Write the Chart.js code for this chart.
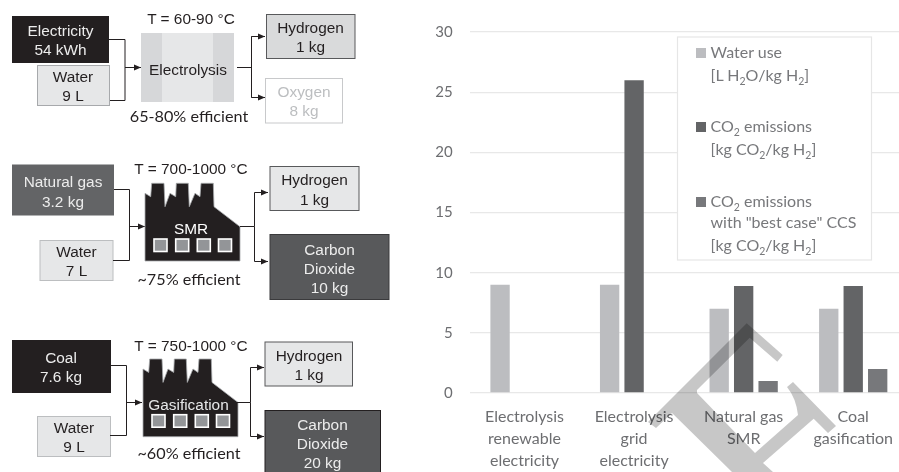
<!DOCTYPE html>
<html>
<head>
<meta charset="utf-8">
<script src="https://cdn.jsdelivr.net/npm/chart.js@4/dist/chart.umd.min.js"></script>
<style>
html, body { margin: 0; padding: 0; width: 899px; height: 472px; overflow: hidden; background: #fff; }
#chartBox { position: absolute; left: 0; top: 0; width: 930px; height: 472px; }
#overlay { position: absolute; left: 0; top: 0; pointer-events: none; }
#overlay text { font-family: "Liberation Sans", Arial, sans-serif; font-size: 15.4px; text-anchor: middle; fill: #231f20; }
#overlay text.cal { font-family: Lato, sans-serif; font-size: 16.2px; }
#overlay text.light { fill: #ececec; }
#overlay text.leg { font-family: Lato, sans-serif; text-anchor: start; fill: #77787b; font-size: 16px; }
#overlay .sub { font-size: 10.5px; }
.line { fill: none; stroke: #231f20; stroke-width: 1; }
</style>
</head>
<body>
<div id="chartBox"><canvas id="barChart" width="930" height="472"></canvas></div>

<svg id="overlay" width="899" height="472" viewBox="0 0 899 472">
  <defs>
    <marker id="arrow" markerUnits="userSpaceOnUse" markerWidth="8" markerHeight="8" refX="7" refY="4" orient="auto">
      <path d="M0,1 L7,4 L0,7 Z" fill="#231f20"/>
    </marker>
    <g id="factory">
      <path d="M145,193.3 L150.7,196.7 L151.7,183.3 L164,183.3 L165,206.7 L170,193.3 L175.7,196.7 L176.3,183.3 L188.3,183.3 L189.3,206.7 L195,193.3 L200,196.7 L201,183.3 L213.3,183.3 L214,206.7 L240,226.7 L240,261 L145,261 Z" fill="#231f20" stroke="#a7a9ac" stroke-width="0.8"/>
      <g fill="#939598" stroke="#fff" stroke-width="1.6">
        <rect x="154" y="239" width="13" height="12.5"/>
        <rect x="175.7" y="239" width="13" height="12.5"/>
        <rect x="197.3" y="239" width="13" height="12.5"/>
        <rect x="218.5" y="239" width="13" height="12.5"/>
      </g>
    </g>
  </defs>

  <!-- electrolysis -->
  <rect x="12" y="16" width="97" height="47" fill="#231f20"/>
  <text class="light" x="60.5" y="36">Electricity</text>
  <text class="light" x="60.5" y="55">54 kWh</text>
  <rect x="37.5" y="65.5" width="72" height="40" fill="#e6e7e8" stroke="#a7a9ac"/>
  <text x="73" y="82">Water</text>
  <text x="73" y="101">9 L</text>
  <path class="line" d="M109,39.5 H125 V100.5 H110"/>
  <path class="line" d="M125,67.5 H141" marker-end="url(#arrow)"/>
  <rect x="141" y="33" width="93" height="69" fill="#e6e7e8"/>
  <rect x="141" y="33" width="21" height="69" fill="#d6d7d9"/>
  <rect x="213" y="33" width="21" height="69" fill="#d6d7d9"/>
  <text x="188" y="75">Electrolysis</text>
  <text x="191" y="24">T = 60-90 °C</text>
  <text class="cal" x="189" y="122">65-80% efficient</text>
  <path class="line" d="M237,67.5 H251.5 M265,36.5 H251.5 V97.5 H265"/>
  <path class="line" d="M251.5,36.5 H265" marker-end="url(#arrow)"/>
  <path class="line" d="M251.5,97.5 H265" marker-end="url(#arrow)"/>
  <rect x="266.5" y="14.5" width="88.5" height="44" fill="#d9dadb" stroke="#58595b"/>
  <text x="310.5" y="33">Hydrogen</text>
  <text x="310.5" y="52">1 kg</text>
  <rect x="265.5" y="78.5" width="77" height="44.5" fill="#fff" stroke="#c8c9cb"/>
  <text x="304" y="97" style="fill:#bcbec0">Oxygen</text>
  <text x="304" y="116" style="fill:#bcbec0">8 kg</text>

  <!-- SMR -->
  <rect x="12" y="164.5" width="102" height="51" fill="#636466"/>
  <text class="light" x="63" y="187">Natural gas</text>
  <text class="light" x="63" y="207">3.2 kg</text>
  <rect x="40" y="240.5" width="73" height="40" fill="#e6e7e8" stroke="#bcbec0"/>
  <text x="76.5" y="257">Water</text>
  <text x="76.5" y="276">7 L</text>
  <path class="line" d="M114,189.5 H129.5 V260.5 H113"/>
  <path class="line" d="M129.5,226.5 H145" marker-end="url(#arrow)"/>
  <use href="#factory"/>
  <text x="191" y="234" style="fill:#fff">SMR</text>
  <text x="191" y="174">T = 700-1000 °C</text>
  <text class="cal" x="189" y="285">~75% efficient</text>
  <path class="line" d="M240,226.5 H254.5 V192.5 M254.5,226.5 V261.5"/>
  <path class="line" d="M254.5,192.5 H268" marker-end="url(#arrow)"/>
  <path class="line" d="M254.5,261.5 H268" marker-end="url(#arrow)"/>
  <rect x="270" y="166.5" width="89" height="44" fill="#e6e7e8" stroke="#58595b"/>
  <text x="314.5" y="185">Hydrogen</text>
  <text x="314.5" y="205">1 kg</text>
  <rect x="270" y="234.5" width="119" height="65" fill="#58595b" stroke="#3a3a3c"/>
  <text class="light" x="329.5" y="255">Carbon</text>
  <text class="light" x="329.5" y="274">Dioxide</text>
  <text class="light" x="329.5" y="293">10 kg</text>

  <!-- gasification -->
  <rect x="12" y="340" width="99" height="53" fill="#231f20"/>
  <text class="light" x="61" y="363">Coal</text>
  <text class="light" x="61" y="382">7.6 kg</text>
  <rect x="37.5" y="416.5" width="73" height="40" fill="#e6e7e8" stroke="#bcbec0"/>
  <text x="74" y="433">Water</text>
  <text x="74" y="452">9 L</text>
  <path class="line" d="M111,365.5 H126.5 V435.5 H110"/>
  <path class="line" d="M126.5,402.5 H142" marker-end="url(#arrow)"/>
  <use href="#factory" x="-2" y="175.7"/>
  <text x="188.5" y="410" style="fill:#e6e7e8">Gasification</text>
  <text x="191" y="351">T = 750-1000 °C</text>
  <text class="cal" x="189" y="459">~60% efficient</text>
  <path class="line" d="M237,402.5 H250.5 V367.5 M250.5,402.5 V436.5"/>
  <path class="line" d="M250.5,367.5 H264" marker-end="url(#arrow)"/>
  <path class="line" d="M250.5,436.5 H264" marker-end="url(#arrow)"/>
  <rect x="265" y="342" width="87.5" height="44" fill="#e6e7e8" stroke="#58595b"/>
  <text x="309" y="361">Hydrogen</text>
  <text x="309" y="380">1 kg</text>
  <rect x="265" y="410.5" width="115.5" height="70" fill="#58595b" stroke="#231f20"/>
  <text class="light" x="322.5" y="430">Carbon</text>
  <text class="light" x="322.5" y="449">Dioxide</text>
  <text class="light" x="322.5" y="468">20 kg</text>

  <!-- legend -->
  <rect x="677.5" y="37" width="194" height="223" fill="#fff" stroke="#e6e6e6" stroke-width="1.2"/>
  <rect x="696" y="48" width="10" height="10" fill="#bcbdc0"/>
  <text class="leg" x="710.5" y="58">Water use</text>
  <text class="leg" x="710.5" y="81">[L H<tspan class="sub" dy="4">2</tspan><tspan dy="-4">O/kg H</tspan><tspan class="sub" dy="4">2</tspan><tspan dy="-4">]</tspan></text>
  <rect x="696" y="122" width="10" height="10" fill="#636466"/>
  <text class="leg" x="710.5" y="132">CO<tspan class="sub" dy="4">2</tspan><tspan dy="-4"> emissions</tspan></text>
  <text class="leg" x="710.5" y="155">[kg CO<tspan class="sub" dy="4">2</tspan><tspan dy="-4">/kg H</tspan><tspan class="sub" dy="4">2</tspan><tspan dy="-4">]</tspan></text>
  <rect x="696" y="197" width="10" height="10" fill="#77787b"/>
  <text class="leg" x="710.5" y="207">CO<tspan class="sub" dy="4">2</tspan><tspan dy="-4"> emissions</tspan></text>
  <text class="leg" x="710.5" y="228">with "best case" CCS</text>
  <text class="leg" x="710.5" y="251">[kg CO<tspan class="sub" dy="4">2</tspan><tspan dy="-4">/kg H</tspan><tspan class="sub" dy="4">2</tspan><tspan dy="-4">]</tspan></text>

  <!-- watermark -->
  <path fill="rgba(0,0,0,0.22)" d="M746.7,323.3 L782.7,355 L777.3,361.7 L749.7,337.7 L697,390 L697,393 L755,453 L798,415 Q796,398 787,387 L793,382 L836,426 L828,433 L813.7,418.7 L763,463 L773,472 L732,472 L672,413 L656,428 L648,422 Z"/>
</svg>

<script>
// ค่าที่อ่านจากกราฟ
const categories = [
    ['Electrolysis', 'renewable', 'electricity'],
    ['Electrolysis', 'grid', 'electricity'],
    ['Natural gas', 'SMR'],
    ['Coal', 'gasification']
];
const waterUse = [9, 9, 7, 7];
const co2Emissions = [null, 26, 8.9, 8.9];
const co2BestCase = [null, null, 1, 2];
const yMax = 30;
const yStep = 5;

const ctx = document.getElementById('barChart').getContext('2d');
new Chart(ctx, {
    type: 'bar',
    data: {
        labels: categories,
        datasets: [
            { label: 'Water use', data: waterUse, backgroundColor: '#bcbdc0' },
            { label: 'CO2 emissions', data: co2Emissions, backgroundColor: '#636466' },
            { label: 'CO2 emissions with "best case" CCS', data: co2BestCase, backgroundColor: '#77787b' }
        ]
    },
    options: {
        responsive: false,
        animation: false,
        categoryPercentage: 0.67,
        barPercentage: 0.79,
        layout: { padding: { top: 32, right: 22, left: 0, bottom: 0 } },
        plugins: { legend: { display: false }, tooltip: { enabled: false } },
        scales: {
            x: {
                afterFit: (s) => { s.height = 79; },
                grid: { display: false, drawTicks: false },
                border: { display: false },
                ticks: {
                    color: '#6d6e71',
                    font: { family: 'Lato', size: 16, lineHeight: 1.36 },
                    padding: 13,
                    maxRotation: 0,
                    autoSkip: false
                }
            },
            y: {
                min: 0,
                max: yMax,
                afterFit: (s) => { s.width = 469.75; },
                grid: { color: '#e8e8e8', lineWidth: 1.3, drawTicks: false },
                border: { display: false },
                ticks: {
                    stepSize: yStep,
                    color: '#6d6e71',
                    font: { family: 'Lato', size: 15 },
                    padding: 17
                }
            }
        }
    }
});
</script>
</body>
</html>
